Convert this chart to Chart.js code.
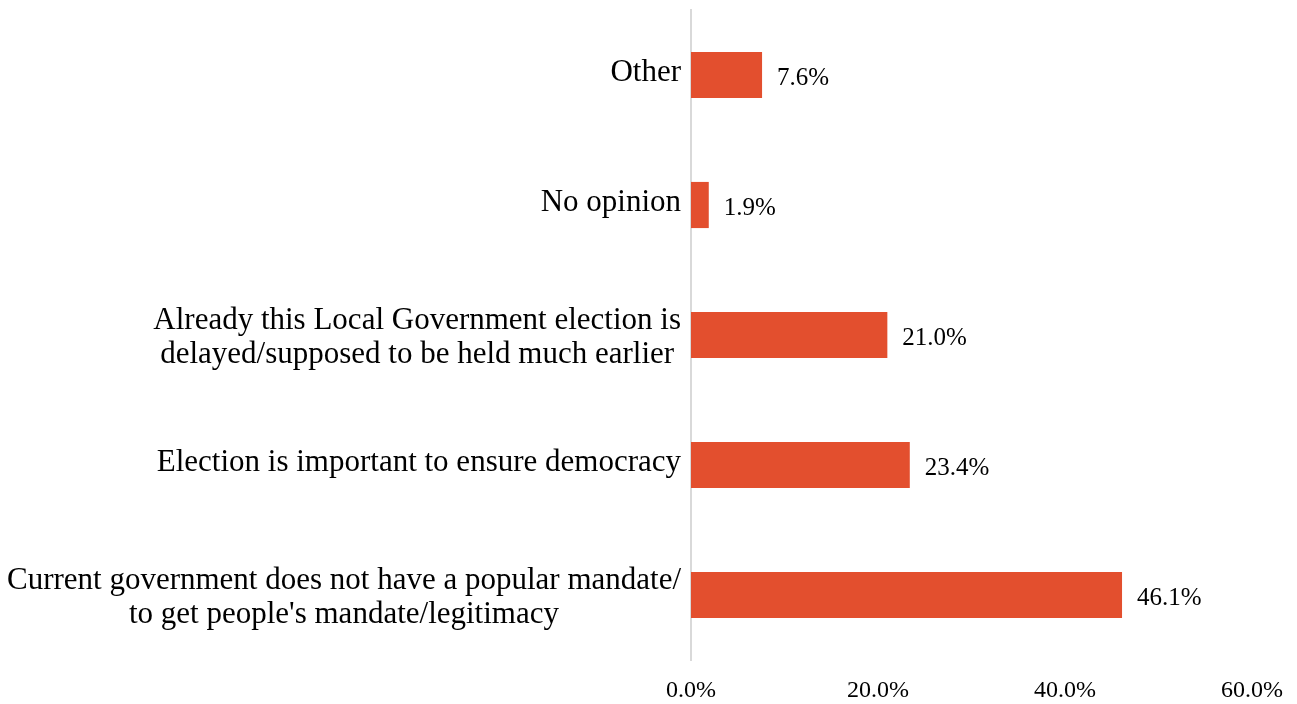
<!DOCTYPE html>
<html>
<head>
<meta charset="utf-8">
<script src="https://cdn.jsdelivr.net/npm/chart.js@4/dist/chart.umd.min.js"></script>
<style>
html,body{margin:0;padding:0;background:#fff;}
#wrap{width:1297px;height:704px;position:relative;}
</style>
</head>
<body>
<div id="wrap"><canvas id="c" width="1297" height="704"></canvas></div>
<script>
const categories = [
  ["Other"],
  ["No opinion"],
  ["Already this Local Government election is", "delayed/supposed to be held much earlier"],
  ["Election is important to ensure democracy"],
  ["Current government does not have a popular mandate/", "to get people's mandate/legitimacy"]
];
const values = [7.6, 1.9, 21.0, 23.4, 46.1];
const xTicks = [0, 20, 40, 60];
const barColor = "#E34F2E";
const FONT = "'Liberation Serif', 'Times New Roman', serif";

// value labels at the end of each bar
const valueLabels = {
  id: 'valueLabels',
  afterDatasetsDraw(chart) {
    const ctx = chart.ctx;
    const meta = chart.getDatasetMeta(0);
    ctx.save();
    ctx.font = "25px " + FONT;
    ctx.fillStyle = "#000";
    ctx.textAlign = "left";
    ctx.textBaseline = "middle";
    meta.data.forEach((bar, i) => {
      ctx.fillText(values[i].toFixed(1) + "%", bar.x + 15, bar.y + 3);
    });
    ctx.restore();
  }
};

// category labels: block right-aligned to the axis, lines centred within the block
const categoryLabels = {
  id: 'categoryLabels',
  afterDraw(chart) {
    const ctx = chart.ctx;
    const ys = chart.scales.y;
    const right = chart.chartArea.left - 10;
    const lh = 34;
    ctx.save();
    ctx.font = "31px " + FONT;
    ctx.fillStyle = "#000";
    ctx.textAlign = "center";
    ctx.textBaseline = "middle";
    chart.data.labels.forEach((lines, i) => {
      const cy = ys.getPixelForTick(i);
      const w = Math.max(...lines.map(l => ctx.measureText(l).width));
      const cx = right - w / 2;
      const y0 = cy - (lines.length - 1) * lh / 2 + (lines.length > 1 ? 3 : -2);
      lines.forEach((l, j) => ctx.fillText(l, cx, y0 + j * lh));
    });
    ctx.restore();
  }
};

new Chart(document.getElementById('c'), {
  type: 'bar',
  data: {
    labels: categories,
    datasets: [{
      data: values,
      backgroundColor: barColor,
      borderWidth: 0,
      categoryPercentage: 1.0,
      barPercentage: 0.355
    }]
  },
  options: {
    indexAxis: 'y',
    responsive: false,
    animation: false,
    layout: { padding: { top: 10, right: 45, bottom: 0, left: 0 } },
    plugins: { legend: { display: false }, tooltip: { enabled: false } },
    scales: {
      x: {
        min: 0, max: 60,
        afterBuildTicks(scale) { scale.ticks = xTicks.map(v => ({ value: v })); },
        afterFit(scale) { scale.height = 44; scale.paddingLeft = 0; scale.paddingRight = 0; },
        grid: { display: false, drawTicks: false },
        border: { display: false },
        ticks: {
          color: "#000",
          padding: 16,
          maxRotation: 0,
          font: { family: FONT, size: 24 },
          callback: v => Number(v).toFixed(1) + "%"
        }
      },
      y: {
        afterFit(scale) { scale.width = 691; scale.paddingTop = 0; scale.paddingBottom = 0; },
        grid: { display: false, drawTicks: false },
        border: { display: true, color: "#D9D9D9", width: 2 },
        ticks: { display: false }
      }
    }
  },
  plugins: [valueLabels, categoryLabels]
});
</script>
</body>
</html>
